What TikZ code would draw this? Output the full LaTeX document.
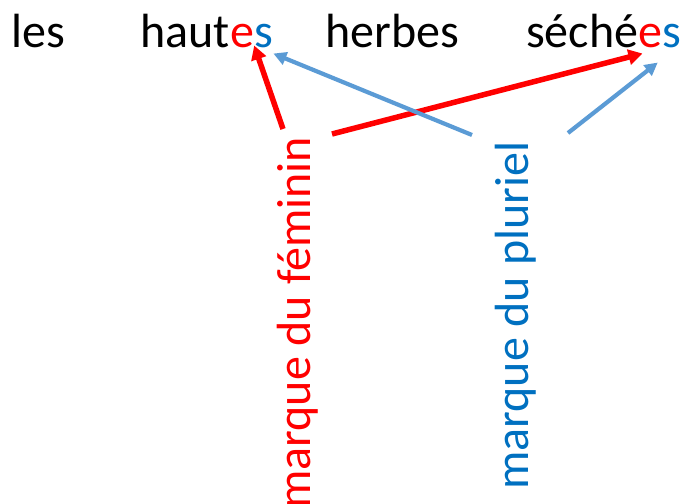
\documentclass[tikz,border=0pt]{standalone}
\usepackage{fontspec}
\setmainfont{Carlito}
\usetikzlibrary{arrows.meta,calc}
\definecolor{femred}{HTML}{FF0000}
\definecolor{plurtext}{HTML}{0070C0}
\definecolor{plurline}{HTML}{5B9BD5}
\begin{document}
\begin{tikzpicture}[x=1pt,y=1pt,
    word/.style={anchor=base west, inner sep=0pt, font=\fontsize{48}{58}\selectfont},
    femarrow/.style={draw=femred, line width=5.5pt, -{Triangle[length=14pt,width=15pt]}},
    plurarrow/.style={draw=plurline, line width=4.2pt, -{Triangle[length=13pt,width=13pt]}}]

    % Define canvas size
    \useasboundingbox (0,0) rectangle (684,503);

    % Sentence on top
    \node[word] (les) at (11,455) {les};
    \node[word] (haut) at (140,455) {haut};
    \node[word, text=femred] (hautE) at (haut.base east) {e};
    \node[word, text=plurtext] (hautS) at (hautE.base east) {s};
    \node[word] (herbes) at (325,455) {herbes};
    \node[word] (seche) at (526,455) {séché};
    \node[word, text=femred] (secheE) at (seche.base east) {e};
    \node[word, text=plurtext] (secheS) at (secheE.base east) {s};

    % Vertical labels
    \node[word, text=femred, rotate=90] (fem) at (310,-6) {marque du féminin};
    \node[word, text=plurtext, rotate=90] (plur) at (528,13) {marque du pluriel};

    % Free ends of the arrows
    \coordinate (femL) at (283,374);
    \coordinate (femR) at (332,369);
    \coordinate (plurL) at (472,368);
    \coordinate (plurR) at (568,370);

    % Arrows to the endings
    \draw[femarrow] (femL) -- ($(hautE.south east)+(0,3)$);
    \draw[femarrow] (femR) -- ($(secheE.south west)+(4,-5)$);
    \draw[plurarrow] (plurL) -- ($(hautS.south east)+(0,-5)$);
    \draw[plurarrow] (plurR) -- ($(secheS.south west)+(-5,-14)$);

\end{tikzpicture}
\end{document}
